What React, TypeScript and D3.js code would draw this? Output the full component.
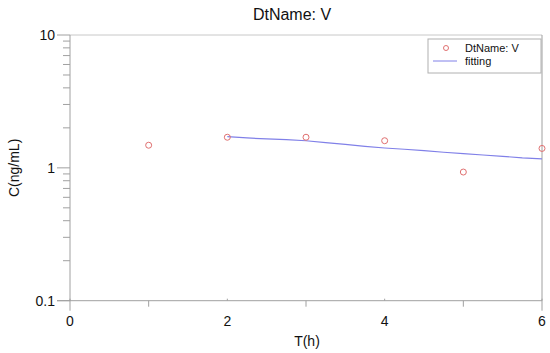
import React from "react";
import { scaleLinear, scaleLog, line } from "d3";

// observed concentrations
const obsT = [1, 2, 3, 4, 5, 6];
const obsC = [1.48, 1.7, 1.7, 1.6, 0.93, 1.4];

// fitted curve
const fitT = [2, 2.25, 2.5, 2.75, 3, 3.25, 3.5, 3.75, 4, 4.25, 4.5, 4.75, 5, 5.25, 5.5, 5.75, 6];
const fitC = [1.72, 1.68, 1.65, 1.63, 1.6, 1.55, 1.5, 1.45, 1.41, 1.38, 1.35, 1.31, 1.28, 1.25, 1.22, 1.19, 1.17];

const xMajor = [0, 2, 4, 6];
const xMinor = [1, 3, 5];
const yMajor = [0.1, 1, 10];
const yMinor = [0.2, 0.3, 0.4, 0.5, 0.6, 0.7, 0.8, 0.9, 2, 3, 4, 5, 6, 7, 8, 9];

const title = "DtName: V";
const xLabel = "T(h)";
const yLabel = "C(ng/mL)";
const legendLabels = ["DtName: V", "fitting"];

export default function App() {
    const width = 550, height = 353;
    const left = 70, right = 542, top = 35, bottom = 300.7;

    const xScale = scaleLinear().domain([0, 6]).range([left, right]);
    const yScale = scaleLog().domain([0.1, 10]).range([bottom, top]);

    const fitLine = line<number>()
        .x((d, i) => xScale(fitT[i]))
        .y(d => yScale(d));

    const axisColor = "#a0a0a0";
    const font = "Liberation Sans, Arial, sans-serif";
    const markerColor = "#e07070";
    const lineColor = "#8080e8";

    return (
        <svg width={width} height={height} style={{ position: "absolute", left: 0, top: 0, background: "#fff" }} fontFamily={font}>
            {/* title */}
            <text x={292} y={20} textAnchor="middle" fontSize={16} fill="#111">{title}</text>

            {/* frame */}
            <line x1={left} x2={right} y1={top} y2={top} stroke="#c8c8c8" />
            <line x1={right} x2={right} y1={top} y2={bottom + 10} stroke={axisColor} />
            <line x1={left} x2={left} y1={top} y2={bottom + 10} stroke={axisColor} />
            <line x1={left - 13} x2={right} y1={bottom} y2={bottom} stroke={axisColor} />

            {/* y ticks */}
            {yMajor.map(v => (
                <g key={"ym" + v}>
                    <line x1={left - 13} x2={left} y1={yScale(v)} y2={yScale(v)} stroke={axisColor} />
                    <text x={left - 15} y={yScale(v) + 5} textAnchor="end" fontSize={14} fill="#111">{v}</text>
                </g>
            ))}
            {yMinor.map(v => (
                <line key={"yn" + v} x1={left - 7} x2={left} y1={yScale(v)} y2={yScale(v)} stroke={axisColor} />
            ))}

            {/* x ticks */}
            {xMajor.map(v => (
                <g key={"xm" + v}>
                    <line x1={xScale(v)} x2={xScale(v)} y1={bottom - 2} y2={bottom} stroke={axisColor} />
                    <text x={xScale(v)} y={bottom + 25} textAnchor="middle" fontSize={14} fill="#111">{v}</text>
                </g>
            ))}
            {xMinor.map(v => (
                <line key={"xn" + v} x1={xScale(v)} x2={xScale(v)} y1={bottom} y2={bottom + 6} stroke={axisColor} />
            ))}

            {/* axis labels */}
            <text x={307} y={346} textAnchor="middle" fontSize={14} fill="#111">{xLabel}</text>
            <text transform={`translate(19, ${yScale(1)}) rotate(-90)`} textAnchor="middle" fontSize={14} fill="#111">{yLabel}</text>

            {/* fitting line */}
            <path d={fitLine(fitC) || ""} fill="none" stroke={lineColor} strokeWidth={1.2} />

            {/* observed */}
            {obsT.map((t, i) => (
                <circle key={i} cx={xScale(t)} cy={yScale(obsC[i])} r={3} fill="none" stroke={markerColor} strokeWidth={1} />
            ))}

            {/* legend */}
            <rect x={428} y={39} width={113} height={34} fill="#fff" stroke="#b0b0b0" />
            <circle cx={446} cy={48} r={2.5} fill="none" stroke={markerColor} />
            <text x={465} y={52} fontSize={11} fill="#111">{legendLabels[0]}</text>
            <line x1={433} x2={457} y1={61} y2={61} stroke={lineColor} />
            <text x={465} y={65} fontSize={11} fill="#111">{legendLabels[1]}</text>
        </svg>
    );
}
